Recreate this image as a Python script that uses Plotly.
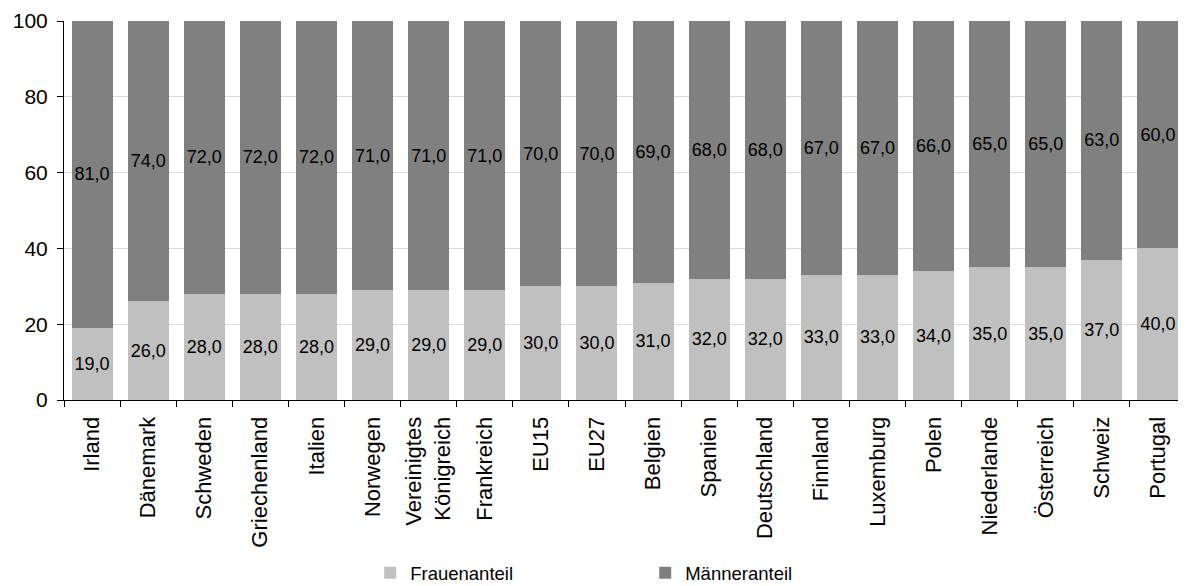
import plotly.graph_objects as go

categories = ["Irland", "Dänemark", "Schweden", "Griechenland", "Italien", "Norwegen",
              "Vereinigtes<br>Königreich", "Frankreich", "EU15", "EU27", "Belgien", "Spanien",
              "Deutschland", "Finnland", "Luxemburg", "Polen", "Niederlande", "Österreich",
              "Schweiz", "Portugal"]
frauen = [19, 26, 28, 28, 28, 29, 29, 29, 30, 30, 31, 32, 32, 33, 33, 34, 35, 35, 37, 40]
maenner = [81, 74, 72, 72, 72, 71, 71, 71, 70, 70, 69, 68, 68, 67, 67, 66, 65, 65, 63, 60]

def fmt(v):
    return f"{v:.1f}".replace(".", ",")

FONT = "Liberation Sans, Arial, sans-serif"

fig = go.Figure()
fig.add_trace(go.Bar(x=categories, y=frauen, name="Frauenanteil",
                     marker=dict(color="#c0c0c0", line=dict(width=0)),
                     text=[fmt(v) for v in frauen], textposition="inside",
                     insidetextanchor="middle", textangle=0, constraintext="none",
                     textfont=dict(family=FONT, size=18, color="#000000")))
fig.add_trace(go.Bar(x=categories, y=maenner, name="Männeranteil",
                     marker=dict(color="#808080", line=dict(width=0)),
                     text=[fmt(v) for v in maenner], textposition="inside",
                     insidetextanchor="middle", textangle=0, constraintext="none",
                     textfont=dict(family=FONT, size=18, color="#000000")))

# page has an 8px body margin, so the figure is sized to fit the window
fig.update_layout(
    barmode="stack", bargap=0.27,
    width=1178, height=578,
    margin=dict(l=56, r=0, t=13, b=186, autoexpand=False),
    paper_bgcolor="white", plot_bgcolor="white",
    font=dict(family=FONT, size=20, color="#000000"),
    showlegend=True,
    legend=dict(orientation="h", x=0.518, xanchor="center", yref="container", y=0.022,
                yanchor="middle", font=dict(size=18.5), entrywidth=230, traceorder="normal"),
)
fig.update_xaxes(showline=True, linecolor="#000000", linewidth=1, ticks="outside",
                 tickson="boundaries", ticklen=6, tickcolor="#000000", tickangle=-90,
                 tickfont=dict(size=22), showgrid=False, automargin=False,
                 ticklabelstandoff=7)
fig.update_yaxes(range=[0, 100], dtick=20, showline=True, linecolor="#000000", linewidth=1,
                 ticks="outside", ticklen=6, tickcolor="#000000", showgrid=True,
                 gridcolor="#d9d9d9", gridwidth=1, tickfont=dict(size=21), zeroline=False,
                 automargin=False, ticklabelstandoff=5)

fig.write_html("out.html")
